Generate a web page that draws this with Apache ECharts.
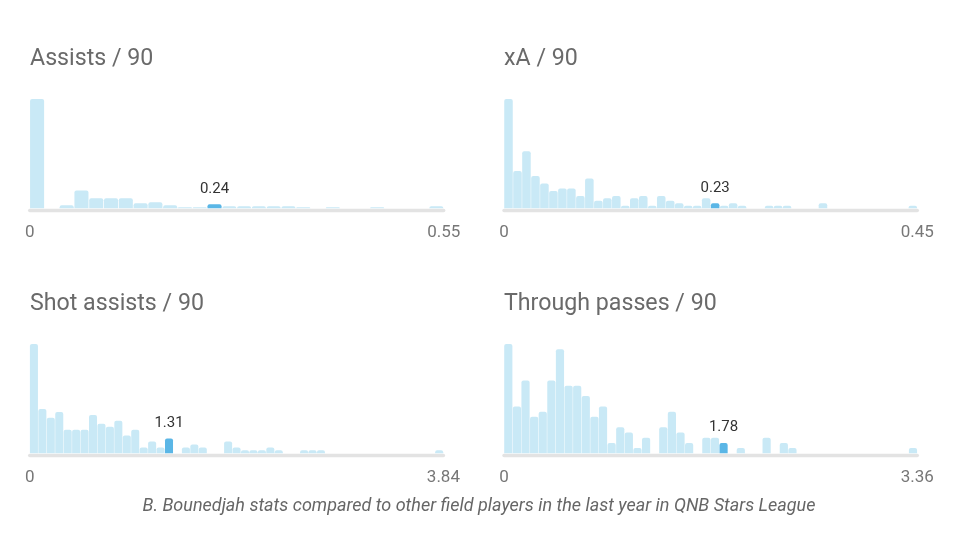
<!DOCTYPE html>
<html>
<head>
<meta charset="utf-8">
<script src="https://cdn.jsdelivr.net/npm/echarts@6/dist/echarts.min.js"></script>
<style>
html,body{margin:0;padding:0;background:#fff;}
#chart{width:958px;height:542px;}
</style>
</head>
<body>
<div id="chart"></div>
<script>
const titles = ['Assists / 90', 'xA / 90', 'Shot assists / 90', 'Through passes / 90'];
const axisMax = [0.55, 0.45, 3.84, 3.36];
const playerValue = [0.24, 0.23, 1.31, 1.78];
const playerBin = [12, 23, 16, 25];
const caption = 'B. Bounedjah stats compared to other field players in the last year in QNB Stars League';

const assistsCounts = [110,0,3,18,10,10,10,5,6,3,1,1,4,2,2,2,2,2,1,0,1,0,0,1,0,0,0,2];
const xaCounts = [44,15,23,13,10,7,8,8,5,12,3,4,5,1,4,5,1,5,3,2,1,1,4,2,1,2,1,0,0,1,1,1,0,0,0,2,0,0,0,0,0,0,0,0,0,1];
const shotAssistsCounts = [37,15,12,14,8,8,8,13,10,9,11,6,8,2,4,2,5,0,2,3,2,0,0,4,2,1,1,1,2,1,0,0,1,1,1,0,0,0,0,0,0,0,0,0,0,0,0,0,1];
const throughPassesCounts = [21,9,14,7,8,14,20,13,13,11,7,9,2,5,4,1,3,0,5,8,4,2,0,3,3,2,0,1,0,0,3,0,2,1,0,0,0,0,0,0,0,0,0,0,0,0,0,1];
const allCounts = [assistsCounts, xaCounts, shotAssistsCounts, throughPassesCounts];

const FONT = 'Roboto, "Noto Sans", sans-serif';
const panels = [
  {left: 29.7, top: 99, width: 414, height: 109.3, titleLeft: 30, titleTop: 46},
  {left: 504, top: 99, width: 413.3, height: 109.3, titleLeft: 504, titleTop: 46},
  {left: 29.7, top: 344, width: 413.7, height: 109.3, titleLeft: 30, titleTop: 291},
  {left: 504, top: 344, width: 413.3, height: 109.3, titleLeft: 504, titleTop: 291}
];

const chart = echarts.init(document.getElementById('chart'), null, {renderer: 'canvas'});

const option = {
  backgroundColor: '#fff',
  animation: false,
  title: [],
  grid: [],
  xAxis: [],
  yAxis: [],
  series: []
};

panels.forEach((p, i) => {
  option.title.push({
    text: titles[i], left: p.titleLeft, top: p.titleTop, padding: 0,
    textStyle: {fontFamily: FONT, fontSize: 23.2, fontWeight: 'normal', color: '#6a6a6a', lineHeight: 26}
  });
  option.grid.push({left: p.left, top: p.top, width: p.width, height: p.height, containLabel: false});
  const counts = allCounts[i];
  option.xAxis.push({
    type: 'category', gridIndex: i, data: counts.map((_, k) => k), show: false,
    boundaryGap: true
  });
  option.xAxis.push({
    type: 'value', gridIndex: i, min: 0, max: axisMax[i], interval: axisMax[i],
    position: 'bottom', offset: 2,
    axisLine: {show: true, lineStyle: {color: '#e3e3e3', width: 3.4}},
    axisTick: {show: false},
    splitLine: {show: false},
    axisLabel: {
      show: true, margin: 14, fontFamily: FONT, fontSize: 17, color: '#777',
      showMinLabel: true, showMaxLabel: true,
      formatter: v => (v === 0 ? '0' : String(v))
    }
  });
  option.yAxis.push({type: 'value', gridIndex: i, min: 0, max: 'dataMax', show: false});
  option.series.push({
    type: 'bar', xAxisIndex: i * 2, yAxisIndex: i,
    barCategoryGap: '5%',
    data: counts.map((c, k) => {
      if (k === playerBin[i]) {
        return {
          value: c,
          itemStyle: {color: '#5ab6e6'},
          label: {
            show: true, position: 'top', distance: 8,
            formatter: () => String(playerValue[i]),
            fontFamily: FONT, fontSize: 15, color: '#333'
          }
        };
      }
      return c;
    }),
    itemStyle: {color: '#c9e9f6', borderRadius: [2, 2, 0, 0]},
    emphasis: {disabled: true},
    silent: true
  });
});

option.title.push({
  text: caption, left: 'center', top: 496, padding: 0,
  textStyle: {fontFamily: FONT, fontSize: 18, fontStyle: 'italic', fontWeight: 'normal', color: '#666', lineHeight: 20}
});

chart.setOption(option);
</script>
</body>
</html>
